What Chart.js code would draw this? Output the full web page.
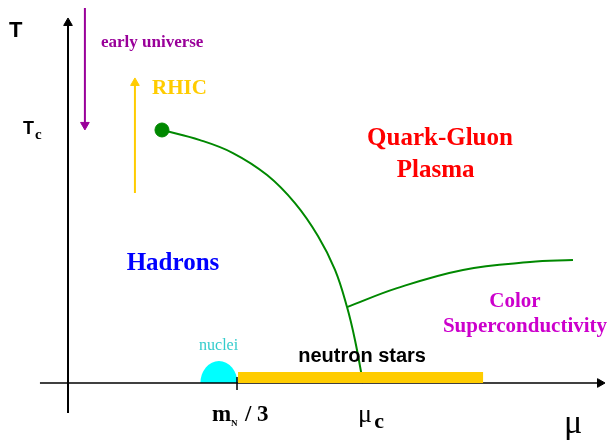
<!DOCTYPE html>
<html>
<head>
<meta charset="utf-8">
<script src="https://cdn.jsdelivr.net/npm/chart.js@4/dist/chart.umd.min.js"></script>
<style>
  html, body { margin: 0; padding: 0; background: #fff; }
  #wrap { width: 607px; height: 440px; }
</style>
</head>
<body>
<div id="wrap"><canvas id="phase" width="607" height="440"></canvas></div>
<script>
// units: mu in m_N/3, T in T_c
const boundaryMu = [0.556, 0.781, 0.976, 1.178, 1.343, 1.479, 1.580, 1.651, 1.698, 1.746];
const boundaryT  = [1.000, 0.960, 0.909, 0.822, 0.711, 0.581, 0.447, 0.300, 0.170, 0.000];
const cscMu = [1.651, 1.947, 2.337, 2.734, 2.988];
const cscT  = [0.300, 0.375, 0.447, 0.478, 0.486];
const criticalMu = 0.556, criticalT = 1.0;
const neutronStarMu = [1.006, 2.456];
const nucleiMu = 0.893;
const earlyMu = 0.100, earlyT = [1.482, 1.020];
const rhicMu = 0.396, rhicT = [0.751, 1.186];
const tAxis = [-0.119, 1.423];
const muAxis = [-0.166, 3.148];

const pts = (xs, ys) => xs.map((x, i) => ({ x, y: ys[i] }));

function arrow(color, data, rot, width) {
  return {
    data, showLine: true, borderColor: color, borderWidth: width,
    pointStyle: 'triangle', pointRadius: [0, 5], pointHoverRadius: 0,
    pointRotation: [0, rot], pointBackgroundColor: color, pointBorderColor: color,
    pointBorderWidth: 1
  };
}

const labels = [
  { t: 'T', x: -0.310, y: 1.368, font: 'bold 22px "Liberation Sans"', c: '#000', a: 'center' },
  { t: 'T', x: -0.266, y: 0.986, font: 'bold 18px "Liberation Sans"', c: '#000', a: 'left' },
  { t: 'c', x: -0.196, y: 0.964, font: 'bold 15px "Liberation Serif"', c: '#000', a: 'left' },
  { t: 'early universe', x: 0.195, y: 1.328, font: 'bold 17px "Liberation Serif"', c: '#990099', a: 'left' },
  { t: 'RHIC', x: 0.497, y: 1.142, font: 'bold 21px "Liberation Serif"', c: '#ffcc00', a: 'left' },
  { t: 'Hadrons', x: 0.621, y: 0.447, font: 'bold 25px "Liberation Serif"', c: '#0000ff', a: 'center' },
  { t: 'Quark-Gluon', x: 2.201, y: 0.941, font: 'bold 25px "Liberation Serif"', c: '#ff0000', a: 'center' },
  { t: 'Plasma', x: 2.175, y: 0.814, font: 'bold 25px "Liberation Serif"', c: '#ff0000', a: 'center' },
  { t: 'Color', x: 2.645, y: 0.300, font: 'bold 21px "Liberation Serif"', c: '#cc00cc', a: 'center' },
  { t: 'Superconductivity', x: 2.704, y: 0.202, font: 'bold 21px "Liberation Serif"', c: '#cc00cc', a: 'center' },
  { t: 'nuclei', x: 0.891, y: 0.130, font: '16px "Liberation Serif"', c: '#33cccc', a: 'center' },
  { t: 'neutron stars', x: 1.740, y: 0.083, font: 'bold 20px "Liberation Sans"', c: '#000', a: 'center' },
  { t: 'm', x: 0.852, y: -0.150, font: 'bold 23px "Liberation Serif"', c: '#000', a: 'left' },
  { t: 'N', x: 0.964, y: -0.170, font: 'bold 9px "Liberation Serif"', c: '#000', a: 'left' },
  { t: '/ 3', x: 1.047, y: -0.150, font: 'bold 23px "Liberation Serif"', c: '#000', a: 'left' },
  { t: 'μ', x: 1.716, y: -0.154, font: '26px "Liberation Serif"', c: '#000', a: 'left' },
  { t: 'c', x: 1.812, y: -0.178, font: 'bold 22px "Liberation Serif"', c: '#000', a: 'left' },
  { t: 'μ', x: 2.935, y: -0.198, font: '34px "Liberation Serif"', c: '#000', a: 'left' }
];

const decor = {
  id: 'decor',
  beforeDatasetsDraw(chart) {
    const { ctx, scales: { x, y } } = chart;
    // nuclei half disc
    const cx = x.getPixelForValue(nucleiMu), cy = y.getPixelForValue(0);
    ctx.save();
    ctx.fillStyle = '#00ffff';
    ctx.beginPath();
    ctx.ellipse(cx, cy, 18.5, 22, 0, Math.PI, 2 * Math.PI);
    ctx.closePath();
    ctx.fill();
    ctx.restore();
  },
  afterDraw(chart) {
    const { ctx, scales: { x, y } } = chart;
    ctx.save();
    ctx.textBaseline = 'alphabetic';
    labels.forEach(l => {
      ctx.font = l.font;
      ctx.fillStyle = l.c;
      ctx.textAlign = l.a;
      ctx.fillText(l.t, x.getPixelForValue(l.x), y.getPixelForValue(l.y));
    });
    ctx.restore();
  }
};

new Chart(document.getElementById('phase'), {
  type: 'scatter',
  data: {
    datasets: [
      { data: pts(neutronStarMu, [0.0217, 0.0217]), showLine: true, borderColor: '#ffcc00',
        borderWidth: 11, borderCapStyle: 'butt', pointRadius: 0 },
      arrow('#000', pts([0, 0], tAxis), 0, 2),
      arrow('#000', pts(muAxis, [0, 0]), 90, 1.5),
      { data: pts([1, 1], [-0.028, 0.024]), showLine: true, borderColor: '#000', borderWidth: 1.5, pointRadius: 0 },
      arrow('#990099', pts([earlyMu, earlyMu], earlyT), 180, 2),
      arrow('#ffcc00', pts([rhicMu, rhicMu], rhicT), 0, 2),
      { data: pts(boundaryMu, boundaryT), showLine: true, borderColor: '#008800', borderWidth: 2,
        tension: 0.4, pointRadius: 0 },
      { data: pts(cscMu, cscT), showLine: true, borderColor: '#008800', borderWidth: 2,
        tension: 0.4, pointRadius: 0 },
      { data: [{ x: criticalMu, y: criticalT }], pointRadius: 7, pointBackgroundColor: '#008800',
        pointBorderColor: '#008800', pointHoverRadius: 7 }
    ]
  },
  options: {
    responsive: false,
    animation: false,
    events: [],
    layout: { padding: 0, autoPadding: false },
    plugins: { legend: { display: false }, tooltip: { enabled: false } },
    scales: {
      x: { type: 'linear', display: false, min: -0.4024, max: 3.1893 },
      y: { type: 'linear', display: false, min: -0.2253, max: 1.5138 }
    }
  },
  plugins: [decor]
});
</script>
</body>
</html>
